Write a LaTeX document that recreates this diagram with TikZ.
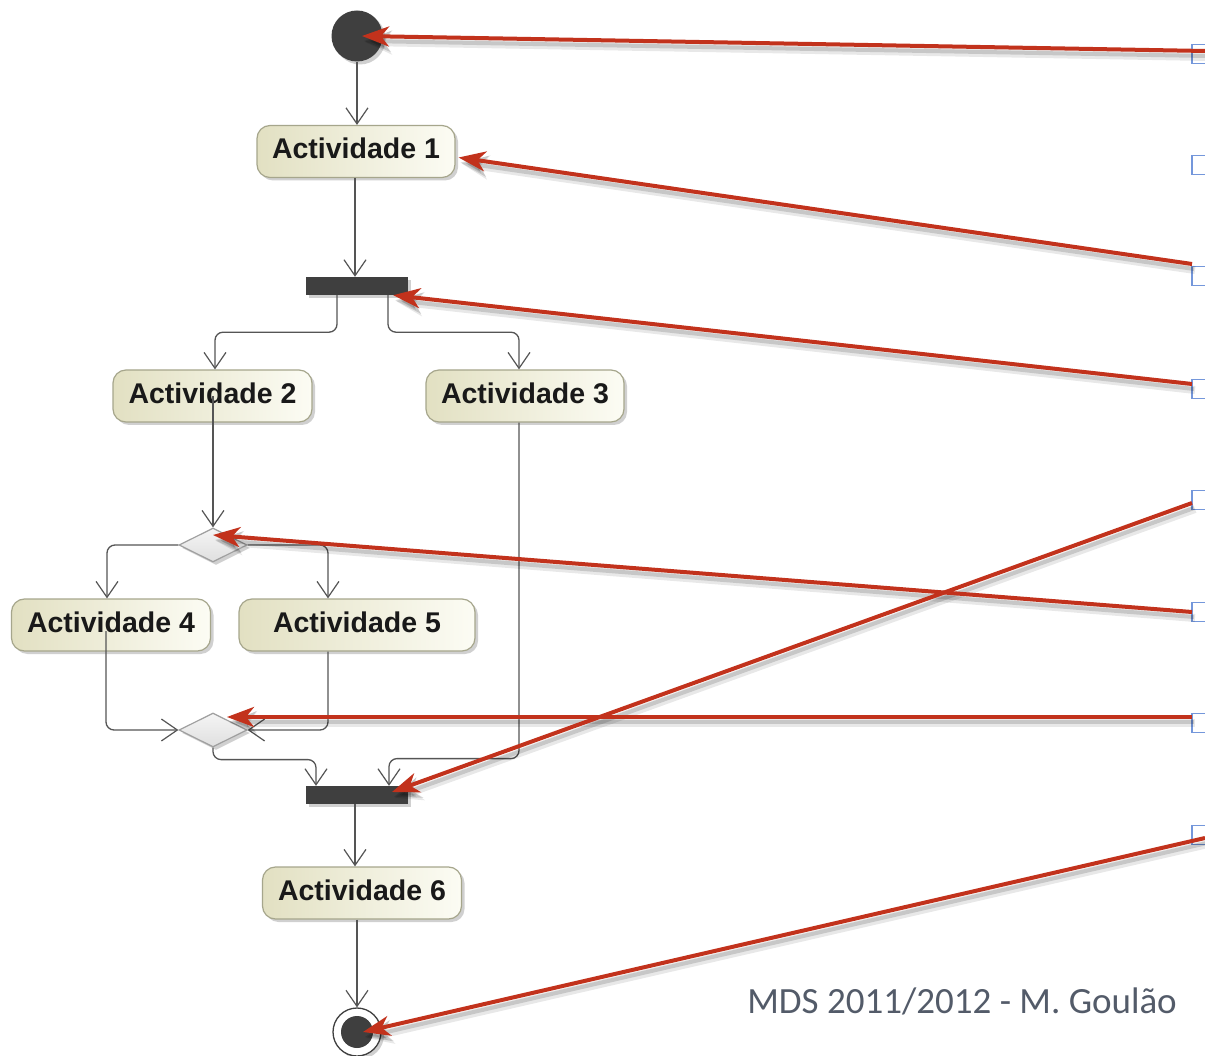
\documentclass[tikz,border=0pt]{standalone}
\usepackage{fontspec}
\newfontfamily\lblfont{Liberation Sans}
\newfontfamily\notefont{Carlito}
\usetikzlibrary{arrows.meta,shapes.geometric,shadows,calc}

\definecolor{ink}{HTML}{555555}
\definecolor{solid}{HTML}{3F3F3F}
\definecolor{boxL}{HTML}{E2E0C2}
\definecolor{boxR}{HTML}{FCFCF4}
\definecolor{boxline}{HTML}{A6A68C}
\definecolor{callred}{HTML}{C2321C}
\definecolor{bullet}{HTML}{7497DB}
\definecolor{notegray}{HTML}{535B69}

\tikzset{
  softshadow/.style={drop shadow={shadow xshift=3pt,shadow yshift=-3pt,opacity=.3,fill=black!60}},
  activity/.style={rectangle, rounded corners=13pt, draw=boxline, line width=1.2pt,
    left color=boxL, right color=boxR, minimum height=52pt, inner sep=0pt,
    text depth=6pt,
    font=\lblfont\bfseries\fontsize{28.5}{30}\selectfont, text=black!90, softshadow},
  bar/.style={rectangle, fill=solid, inner sep=0pt, minimum width=102pt, minimum height=18pt, softshadow},
  choice/.style={diamond, draw=gray!75, line width=1.2pt, top color=gray!8, bottom color=gray!25,
    inner sep=0pt, minimum width=68pt, minimum height=34pt, softshadow},
  flow/.style={draw=ink, line width=1.3pt, rounded corners=8pt,
    -{Straight Barb[length=16pt,width=22pt,line width=1.2pt]}},
  callout/.style={draw=callred, line width=4pt, -{Stealth[length=27pt,width=20pt,inset=8pt]}},
  calloutshade/.style={draw=black, opacity=.09, line width=8pt,
    -{Stealth[length=27pt,width=24pt,inset=8pt]}, transform canvas={xshift=3pt,yshift=-6pt}},
  calloutcore/.style={draw=black, opacity=.14, line width=4pt,
    -{Stealth[length=27pt,width=21pt,inset=8pt]}, transform canvas={xshift=2pt,yshift=-5pt}},
  bulletbox/.style={draw=bullet, line width=1.5pt, fill=white, minimum width=26pt,
    minimum height=19pt, inner sep=0pt, anchor=west},
}

\begin{document}
\begin{tikzpicture}[x=1pt,y=-1pt]
  \clip (0,0) rectangle (1205,1056);
  \fill[white] (0,0) rectangle (1205,1056);

  % activity diagram
  \node[circle, fill=solid, minimum size=51pt, inner sep=0pt, softshadow] (init) at (357,36) {};
  \node[activity, minimum width=198pt] (act1) at (356,151.5) {Actividade 1};
  \node[bar] (fork) at (357,286) {};
  \node[activity, minimum width=199pt] (act2) at (212.5,396) {Actividade 2};
  \node[activity, minimum width=198pt] (act3) at (525,396) {Actividade 3};
  \node[choice] (dec) at (213,545) {};
  \node[activity, minimum width=199pt] (act4) at (111,625) {Actividade 4};
  \node[activity, minimum width=236pt] (act5) at (357,625) {Actividade 5};
  \node[choice] (merge) at (213,730) {};
  \node[bar] (join) at (357,795) {};
  \node[activity, minimum width=199pt] (act6) at (362,893) {Actividade 6};
  \node[circle, draw=solid, line width=1.3pt, fill=white, minimum size=48pt, inner sep=0pt, softshadow] (final) at (357,1032) {};
  \node[circle, fill=solid, minimum size=32pt, inner sep=0pt] (finaldot) at (final.center) {};

  % control flows
  \draw[flow] (init.south) -- (init.south |- act1.north);
  \draw[flow] ([xshift=-1pt]act1.south) -- ([xshift=-1pt]act1.south |- fork.north);
  \draw[flow] ([xshift=-20pt]fork.south) -- ++(0,37) -| ([xshift=2.5pt]act2.north);
  \draw[flow] ([xshift=31pt]fork.south) -- ++(0,37) -| ([xshift=-6pt]act3.north);
  \draw[flow] (dec.north |- act2.center) -- (dec.north);
  \draw[flow] (dec.west) -| ([xshift=-4pt]act4.north);
  \draw[flow] (dec.east) -| ([xshift=-29pt]act5.north);
  \draw[flow] ([xshift=-5pt,yshift=-6pt]act4.center) |- (merge.west);
  \draw[flow] ([xshift=-29pt]act5.south) |- (merge.east);
  \draw[flow] (merge.south) -- ++(0,12) -| ([xshift=-41pt]join.north);
  \draw[flow] ([xshift=-6pt]act3.south) -- ++(0,336) -| ([xshift=32pt]join.north);
  \draw[flow] ([xshift=-2pt]join.south) -- ([xshift=-2pt]join.south |- act6.north);
  \draw[flow] (final.north |- act6.south) -- (final.north);

  % bullet markers on the right margin
  \foreach \i/\y in {1/54,2/165,3/276,4/389,5/500,6/612,7/723,8/835}
    \node[bulletbox] (b\i) at (1191,\y) {};

  % callout start points
  \coordinate (c1) at (1205,51);
  \coordinate (c2) at (1192,264);
  \coordinate (c3) at (1192,384);
  \coordinate (c4) at (1192,503);
  \coordinate (c5) at (1192,612);
  \coordinate (c6) at (1192,717);
  \coordinate (c7) at (1205,838);

  % callout shadows (soft outer layer, then darker core)
  \foreach \s in {calloutshade,calloutcore}{
    \draw[\s] (c1) -- ([xshift=5pt]init.center);
    \draw[\s] (c2) -- ([xshift=3pt,yshift=-6pt]act1.east);
    \draw[\s] (c3) -- ([xshift=-15pt]fork.south east);
    \draw[\s] (c4) -- ([xshift=35pt,yshift=3pt]join.center);
    \draw[\s] (c5) -- ([yshift=10pt]dec.center);
    \draw[\s] (c6) -- ([xshift=14pt,yshift=13pt]merge.center);
    \draw[\s] (c7) -- ([xshift=6pt]final.center);
  }

  % callouts
  \draw[callout] (c1) -- ([xshift=5pt]init.center);
  \draw[callout] (c2) -- ([xshift=3pt,yshift=-6pt]act1.east);
  \draw[callout] (c3) -- ([xshift=-15pt]fork.south east);
  \draw[callout] (c4) -- ([xshift=35pt,yshift=3pt]join.center);
  \draw[callout] (c5) -- ([yshift=10pt]dec.center);
  \draw[callout] (c6) -- ([xshift=14pt,yshift=13pt]merge.center);
  \draw[callout] (c7) -- ([xshift=6pt]final.center);

  % footer
  \node[anchor=base east, inner sep=0pt, font=\notefont\fontsize{37}{40}\selectfont, text=notegray]
    (credit) at (1177,1013) {MDS 2011/2012 - M. Goulão};
\end{tikzpicture}
\end{document}
